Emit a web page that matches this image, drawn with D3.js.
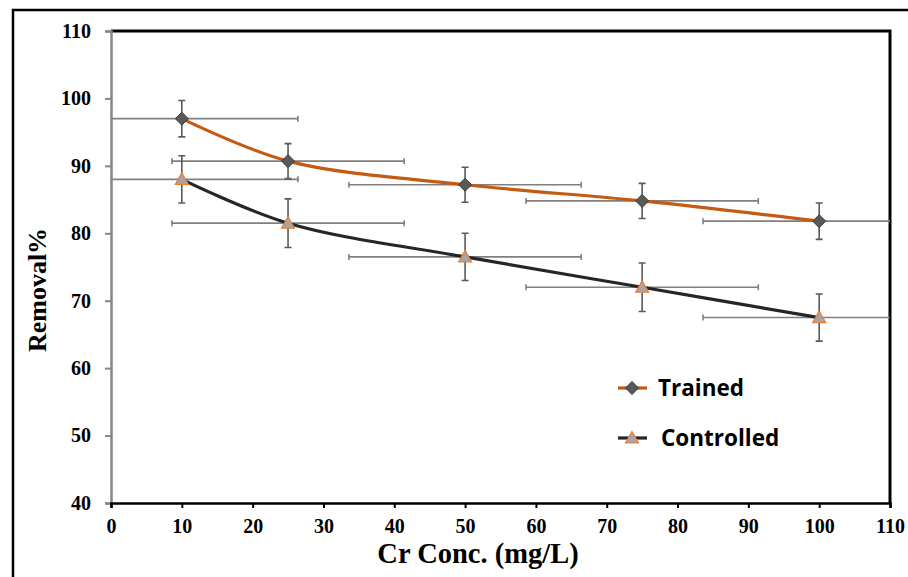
<!DOCTYPE html>
<html>
<head>
<meta charset="utf-8">
<script src="https://cdn.jsdelivr.net/npm/d3@7"></script>
<style>
  body { margin: 0; background: #fff; }
  svg { display: block; }
  .axis text { font-family: 'Liberation Serif', 'Times New Roman', serif; font-weight: bold; font-size: 20px; fill: #000; }
</style>
</head>
<body>
<div id="chart"></div>
<script>
//data
const conc = [10, 25, 50, 75, 100];
const trained = [97.0, 90.7, 87.2, 84.8, 81.8];
const controlled = [88.0, 81.5, 76.5, 72.0, 67.5];
const trainedYErr = [2.7, 2.6, 2.6, 2.6, 2.7];
const controlledYErr = [3.5, 3.6, 3.5, 3.6, 3.5];
const xErr = [16.4, 16.4, 16.4, 16.4, 16.4];
const xTicks = [0, 10, 20, 30, 40, 50, 60, 70, 80, 90, 100, 110];
const yTicks = [40, 50, 60, 70, 80, 90, 100, 110];

const series = [
  { name: "Trained", values: trained, err: trainedYErr, color: "#c55a11", marker: "diamond" },
  { name: "Controlled", values: controlled, err: controlledYErr, color: "#262626", marker: "triangle" },
];

//size
const width = 908, height = 577;
const margin = { top: 31, right: 18, bottom: 74, left: 111 };
const innerWidth = width - margin.left - margin.right;
const innerHeight = height - margin.top - margin.bottom;

//scale
const xScale = d3.scaleLinear().domain([0, 110]).range([0, innerWidth]);
const yScale = d3.scaleLinear().domain([40, 110]).range([innerHeight, 0]);

const svg = d3.select("#chart").append("svg")
  .attr("width", width)
  .attr("height", height);

//outer frame
svg.append("rect")
  .attr("x", 13).attr("y", 10)
  .attr("width", width + 20).attr("height", height + 20)
  .attr("fill", "none").attr("stroke", "#000").attr("stroke-width", 2.5);

const g = svg.append("g").attr("transform", `translate(${margin.left},${margin.top})`);

g.append("clipPath").attr("id", "clip")
  .append("rect").attr("width", innerWidth).attr("height", innerHeight);

//frame: top + right black
g.append("path")
  .attr("d", `M0,0H${innerWidth}V${innerHeight}`)
  .attr("fill", "none").attr("stroke", "#000").attr("stroke-width", 3);

//y-axis
const yAxis = g.append("g").attr("class", "axis y-axis")
  .call(d3.axisLeft(yScale).tickValues(yTicks).tickSize(6).tickPadding(14));
yAxis.attr("font-size", null).attr("font-family", null);
yAxis.select(".domain").attr("stroke", "#878787").attr("stroke-width", 2.5);
yAxis.selectAll(".tick line").attr("stroke", "#878787").attr("stroke-width", 2);

//x-axis
const xAxis = g.append("g").attr("class", "axis x-axis")
  .attr("transform", `translate(0,${innerHeight})`)
  .call(d3.axisBottom(xScale).tickValues(xTicks).tickSize(5).tickPadding(11));
xAxis.attr("font-size", null).attr("font-family", null);
xAxis.select(".domain").attr("stroke", "#000").attr("stroke-width", 2.5);
xAxis.selectAll(".tick line").attr("stroke", "#000").attr("stroke-width", 2);

//error bars
const bars = g.append("g").attr("class", "err").attr("clip-path", "url(#clip)");
series.forEach((s) => {
  conc.forEach((c, i) => {
    const cy = yScale(s.values[i]);
    const x0 = xScale(c - xErr[i]), x1 = xScale(c + xErr[i]);
    bars.append("path")
      .attr("d", `M${x0},${cy}H${x1}M${x0},${cy - 3}V${cy + 3}M${x1},${cy - 3}V${cy + 3}`)
      .attr("stroke", "#808080").attr("stroke-width", 1.6).attr("fill", "none");
  });
});
series.forEach((s) => {
  conc.forEach((c, i) => {
    const cx = xScale(c);
    const y0 = yScale(s.values[i] + s.err[i]), y1 = yScale(s.values[i] - s.err[i]);
    bars.append("path")
      .attr("d", `M${cx},${y0}V${y1}M${cx - 3.5},${y0}H${cx + 3.5}M${cx - 3.5},${y1}H${cx + 3.5}`)
      .attr("stroke", "#5a5a5a").attr("stroke-width", 1.6).attr("fill", "none");
  });
});

//lines
const line = d3.line()
  .x((d) => xScale(d[0]))
  .y((d) => yScale(d[1]))
  .curve(d3.curveCatmullRom.alpha(0.5));

g.selectAll("path.series")
  .data(series)
  .join("path")
  .attr("class", "series")
  .attr("d", (s) => line(conc.map((c, i) => [c, s.values[i]])))
  .attr("fill", "none")
  .attr("stroke", (s) => s.color)
  .attr("stroke-width", 3.2);

//markers
function drawMarker(sel, type) {
  if (type === "diamond") {
    sel.append("path").attr("d", "M0,-6.5L6.5,0L0,6.5L-6.5,0Z")
      .attr("fill", "#595959").attr("stroke", "#3a3a3a").attr("stroke-width", 1);
  } else {
    sel.append("path").attr("d", "M0,-6.5L6.5,5L-6.5,5Z")
      .attr("fill", "#a5a5a5").attr("stroke", "#ed7d31").attr("stroke-width", 1.2);
  }
}
series.forEach((s) => {
  conc.forEach((c, i) => {
    const m = g.append("g").attr("transform", `translate(${xScale(c)},${yScale(s.values[i])})`);
    drawMarker(m, s.marker);
  });
});

//legend
const legend = svg.append("g").attr("class", "legend");
series.forEach((s, i) => {
  const ly = 388 + i * 50;
  legend.append("line")
    .attr("x1", 618).attr("x2", 647).attr("y1", ly).attr("y2", ly)
    .attr("stroke", s.color).attr("stroke-width", 3.2);
  drawMarker(legend.append("g").attr("transform", `translate(632,${ly})`), s.marker);
  legend.append("text")
    .attr("x", i === 0 ? 658 : 661).attr("y", ly + 8)
    .attr("font-family", "'Open Sans', 'Noto Sans', sans-serif")
    .attr("font-weight", "bold").attr("font-size", 22.5).attr("fill", "#000")
    .text(s.name);
});

//axis titles
svg.append("text")
  .attr("x", 478).attr("y", 563)
  .attr("text-anchor", "middle")
  .attr("font-family", "'Liberation Serif', 'Times New Roman', serif")
  .attr("font-weight", "bold").attr("font-size", 28.5)
  .text("Cr Conc. (mg/L)");

svg.append("text")
  .attr("transform", "translate(46,290) rotate(-90)")
  .attr("text-anchor", "middle")
  .attr("font-family", "'Liberation Serif', 'Times New Roman', serif")
  .attr("font-weight", "bold").attr("font-size", 26)
  .text("Removal%");
</script>
</body>
</html>
